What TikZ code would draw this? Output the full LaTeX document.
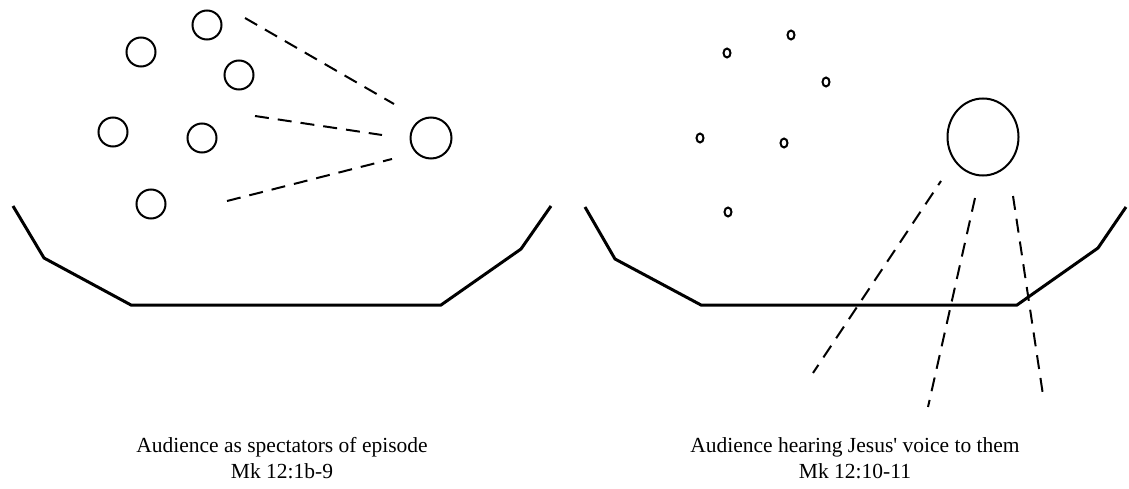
\documentclass[tikz,border=0pt]{standalone}
\usepackage{fontspec}
\setmainfont{Liberation Serif}
\usetikzlibrary{shapes.geometric, positioning}
\tikzset{
  person/.style={circle, draw, line width=2pt, minimum size=29pt, inner sep=0pt},
  hearer/.style={ellipse, draw, line width=2pt, minimum width=7pt, minimum height=9pt, inner sep=0pt},
  speaker/.style={circle, draw, line width=2pt, minimum size=41pt, inner sep=0pt},
  voice/.style={ellipse, draw, line width=2pt, minimum width=71pt, minimum height=77pt, inner sep=0pt},
  rim/.style={line width=3pt, line join=miter},
  gaze/.style={line width=2pt, dash pattern=on 14pt off 9pt},
  caption/.style={font=\fontsize{21.5}{26}\selectfont, align=center},
}
\begin{document}
\begin{tikzpicture}[x=1pt, y=-1pt]
  \useasboundingbox (0,0) rectangle (1129,489);

  % Left: audience as spectators
  \node[person] (p1) at (141,52)  {};
  \node[person] (p2) at (207,25)  {};
  \node[person] (p3) at (239,75)  {};
  \node[person] (p4) at (113,132) {};
  \node[person] (p5) at (202,138) {};
  \node[person] (p6) at (151,204) {};
  \node[speaker] (jl) at (431,138) {};

  \coordinate (ga1) at (245,18);  \coordinate (gb1) at (394,104);
  \coordinate (ga2) at (255,116); \coordinate (gb2) at (382,135);
  \coordinate (ga3) at (227,201); \coordinate (gb3) at (392,159);
  \draw[gaze] (ga1) -- (gb1);
  \draw[gaze] (ga2) -- (gb2);
  \draw[gaze] (ga3) -- (gb3);

  \draw[rim] (13,206) -- (44,258) -- (131,305) -- (441,305) -- (521,249) -- (551,206);

  \node[caption] (capl) at (282,458) {Audience as spectators of episode\\Mk 12:1b-9};

  % Right: audience hearing the voice
  \node[hearer] (h1) at (791,35)  {};
  \node[hearer] (h2) at (727,53)  {};
  \node[hearer] (h3) at (826,82)  {};
  \node[hearer] (h4) at (700,138) {};
  \node[hearer] (h5) at (784,143) {};
  \node[hearer] (h6) at (728,212) {};
  \node[voice] (jr) at (983,137) {};

  \draw[rim] (585,207) -- (615,259) -- (701,305) -- (1017,305) -- (1098,248) -- (1126,207);

  \coordinate (va1) at (941,181);  \coordinate (vb1) at (813,373);
  \coordinate (va2) at (975,198);  \coordinate (vb2) at (928,407);
  \coordinate (va3) at (1013,196); \coordinate (vb3) at (1043,395);
  \draw[gaze, dash phase=9pt] (va1) -- (vb1);
  \draw[gaze] (va2) -- (vb2);
  \draw[gaze] (va3) -- (vb3);

  \node[caption] (capr) at (855,458) {Audience hearing Jesus\textquotesingle{} voice to them\\Mk 12:10-11};
\end{tikzpicture}
\end{document}
